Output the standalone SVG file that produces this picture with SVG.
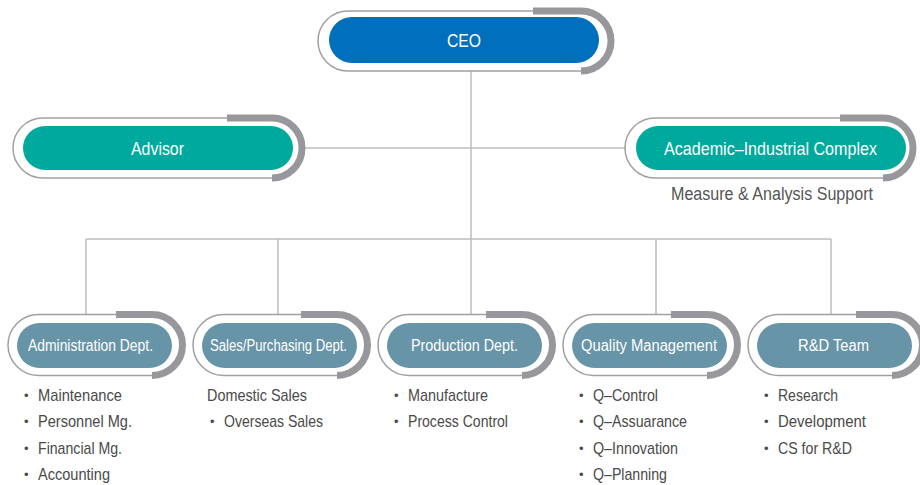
<svg xmlns="http://www.w3.org/2000/svg" width="920" height="485" viewBox="0 0 920 485">
<style>
.outer{fill:#fff;stroke:#a0a0a0;stroke-width:1.5}
.arc{fill:none;stroke:#98989c;stroke-width:7}
.blue{fill:#0070bd}
.teal{fill:#00a99d}
.steel{fill:#6794a7}
.lbl{font-family:"Liberation Sans",Arial,sans-serif;fill:#fff}
.big{font-size:19px}
.mid{font-size:16px}
.item{font-family:"Liberation Sans",Arial,sans-serif;font-size:17px;fill:#4a4a4a}
.blt{font-size:13px}
.conn{fill:none;stroke:#bdbdbd;stroke-width:1.5}
</style>
<rect width="920" height="485" fill="#fff"/>
<g id="connectors">
<path class="conn" d="M471 71V239M302 148H625M86 239H831M86 239V314M278 239V314M471 239V314M656 239V314M831 239V314"/>
</g>
<g id="ceo">
<rect class="outer" x="318" y="11" width="293" height="60" rx="30"/>
<path class="arc" d="M533 11H581A30 30 0 0 1 581 71"/>
<rect class="blue" x="329" y="17" width="270" height="46" rx="23"/>
<text class="lbl big" x="447" y="46.5" textLength="34" lengthAdjust="spacingAndGlyphs">CEO</text>
</g>
<g id="advisor">
<rect class="outer" x="13" y="118" width="289" height="60" rx="30"/>
<path class="arc" d="M227 118H272A30 30 0 0 1 272 178"/>
<rect class="teal" x="23" y="126" width="270" height="44" rx="22"/>
<text class="lbl big" x="131" y="154.5" textLength="53" lengthAdjust="spacingAndGlyphs">Advisor</text>
</g>
<g id="academic">
<rect class="outer" x="625" y="118" width="288" height="60" rx="30"/>
<path class="arc" d="M840 118H883A30 30 0 0 1 883 178"/>
<rect class="teal" x="636" y="126" width="270" height="44" rx="22"/>
<text class="lbl big" x="664" y="154.5" textLength="213" lengthAdjust="spacingAndGlyphs">Academic–Industrial Complex</text>
<text class="item" x="671" y="200" style="font-size:18px;fill:#555" textLength="202" lengthAdjust="spacingAndGlyphs">Measure &amp; Analysis Support</text>
</g>
<g id="admin">
<rect class="outer" x="8" y="314.5" width="174" height="61" rx="30.5"/>
<path class="arc" d="M116 314.5H152A30.5 30.5 0 0 1 152 375.5"/>
<rect class="steel" x="17" y="323" width="155" height="45" rx="22.5"/>
<text class="lbl mid" x="28" y="350.5" textLength="125" lengthAdjust="spacingAndGlyphs">Administration Dept.</text>
<text class="item"><tspan class="blt" x="24" y="400">•</tspan><tspan x="38" y="401" textLength="84" lengthAdjust="spacingAndGlyphs">Maintenance</tspan></text>
<text class="item"><tspan class="blt" x="24" y="426">•</tspan><tspan x="38" y="427" textLength="94" lengthAdjust="spacingAndGlyphs">Personnel Mg.</tspan></text>
<text class="item"><tspan class="blt" x="24" y="453">•</tspan><tspan x="38" y="454" textLength="84" lengthAdjust="spacingAndGlyphs">Financial Mg.</tspan></text>
<text class="item"><tspan class="blt" x="24" y="479">•</tspan><tspan x="38" y="480" textLength="72" lengthAdjust="spacingAndGlyphs">Accounting</tspan></text>
</g>
<g id="sales">
<rect class="outer" x="193" y="314.5" width="174" height="61" rx="30.5"/>
<path class="arc" d="M301 314.5H337A30.5 30.5 0 0 1 337 375.5"/>
<rect class="steel" x="202" y="323" width="155" height="45" rx="22.5"/>
<text class="lbl mid" x="210" y="350.5" textLength="137" lengthAdjust="spacingAndGlyphs">Sales/Purchasing Dept.</text>
<text class="item" x="207" y="401" textLength="100" lengthAdjust="spacingAndGlyphs">Domestic Sales</text>
<text class="item"><tspan class="blt" x="210" y="426">•</tspan><tspan x="224" y="427" textLength="99" lengthAdjust="spacingAndGlyphs">Overseas Sales</tspan></text>
</g>
<g id="production">
<rect class="outer" x="378" y="314.5" width="174" height="61" rx="30.5"/>
<path class="arc" d="M486 314.5H522A30.5 30.5 0 0 1 522 375.5"/>
<rect class="steel" x="387" y="323" width="155" height="45" rx="22.5"/>
<text class="lbl mid" x="411" y="350.5" textLength="107" lengthAdjust="spacingAndGlyphs">Production Dept.</text>
<text class="item"><tspan class="blt" x="394" y="400">•</tspan><tspan x="408" y="401" textLength="80" lengthAdjust="spacingAndGlyphs">Manufacture</tspan></text>
<text class="item"><tspan class="blt" x="394" y="426">•</tspan><tspan x="408" y="427" textLength="100" lengthAdjust="spacingAndGlyphs">Process Control</tspan></text>
</g>
<g id="quality">
<rect class="outer" x="563" y="314.5" width="174" height="61" rx="30.5"/>
<path class="arc" d="M671 314.5H707A30.5 30.5 0 0 1 707 375.5"/>
<rect class="steel" x="572" y="323" width="155" height="45" rx="22.5"/>
<text class="lbl mid" x="581" y="350.5" textLength="136" lengthAdjust="spacingAndGlyphs">Quality Management</text>
<text class="item"><tspan class="blt" x="579" y="400">•</tspan><tspan x="593" y="401" textLength="65" lengthAdjust="spacingAndGlyphs">Q–Control</tspan></text>
<text class="item"><tspan class="blt" x="579" y="426">•</tspan><tspan x="593" y="427" textLength="94" lengthAdjust="spacingAndGlyphs">Q–Assuarance</tspan></text>
<text class="item"><tspan class="blt" x="579" y="453">•</tspan><tspan x="593" y="454" textLength="85" lengthAdjust="spacingAndGlyphs">Q–Innovation</tspan></text>
<text class="item"><tspan class="blt" x="579" y="479">•</tspan><tspan x="593" y="480" textLength="74" lengthAdjust="spacingAndGlyphs">Q–Planning</tspan></text>
</g>
<g id="rnd">
<rect class="outer" x="748" y="314.5" width="174" height="61" rx="30.5"/>
<path class="arc" d="M856 314.5H892A30.5 30.5 0 0 1 892 375.5"/>
<rect class="steel" x="757" y="323" width="155" height="45" rx="22.5"/>
<text class="lbl mid" x="798" y="350.5" textLength="71" lengthAdjust="spacingAndGlyphs">R&amp;D Team</text>
<text class="item"><tspan class="blt" x="764" y="400">•</tspan><tspan x="778" y="401" textLength="60" lengthAdjust="spacingAndGlyphs">Research</tspan></text>
<text class="item"><tspan class="blt" x="764" y="426">•</tspan><tspan x="778" y="427" textLength="88" lengthAdjust="spacingAndGlyphs">Development</tspan></text>
<text class="item"><tspan class="blt" x="764" y="453">•</tspan><tspan x="778" y="454" textLength="74" lengthAdjust="spacingAndGlyphs">CS for R&amp;D</tspan></text>
</g>
</svg>
